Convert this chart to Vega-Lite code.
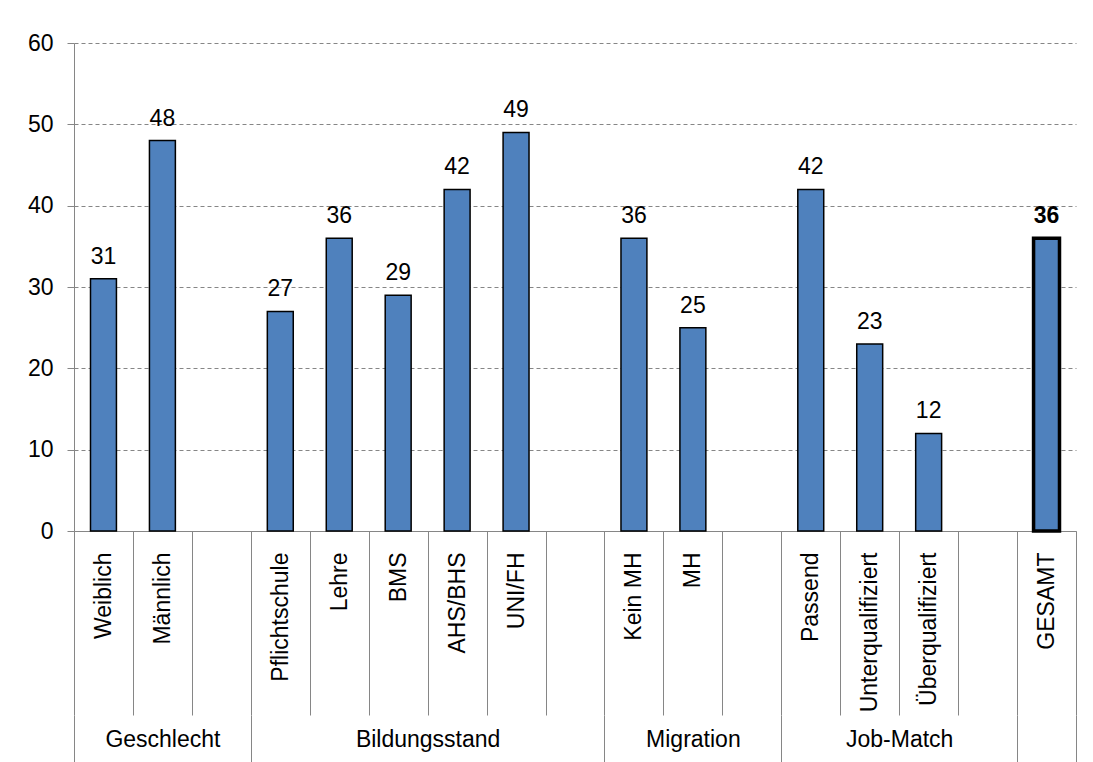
{
  "$schema": "https://vega.github.io/schema/vega-lite/v6.json",
  "width": 1002,
  "height": 488,
  "autosize": "none",
  "padding": {"left": 74, "top": 43, "right": 17, "bottom": 231},
  "background": "white",
  "config": {"font": "Liberation Sans", "view": {"stroke": null}},
  "data": {
    "values": [
      {"cat": "Weiblich", "value": 31},
      {"cat": "Männlich", "value": 48},
      {"cat": "Pflichtschule", "value": 27},
      {"cat": "Lehre", "value": 36},
      {"cat": "BMS", "value": 29},
      {"cat": "AHS/BHS", "value": 42},
      {"cat": "UNI/FH", "value": 49},
      {"cat": "Kein MH", "value": 36},
      {"cat": "MH", "value": 25},
      {"cat": "Passend", "value": 42},
      {"cat": "Unterqualifiziert", "value": 23},
      {"cat": "Überqualifiziert", "value": 12},
      {"cat": "GESAMT", "value": 36}
    ]
  },
  "resolve": {"scale": {"x": "independent"}},
  "layer": [
    {
      "encoding": {
        "x": {
          "field": "cat",
          "type": "nominal",
          "sort": null,
          "scale": {
            "domain": ["Weiblich", "Männlich", " ", "Pflichtschule", "Lehre", "BMS", "AHS/BHS", "UNI/FH", "  ", "Kein MH", "MH", "   ", "Passend", "Unterqualifiziert", "Überqualifiziert", "    ", "GESAMT"],
            "paddingInner": 0,
            "paddingOuter": 0
          },
          "axis": {
            "title": null,
            "labelAngle": 270,
            "labelAlign": "right",
            "labelBaseline": "middle",
            "labelFontSize": 23,
            "labelColor": "black",
            "labelPadding": -163,
            "labelOverlap": false,
            "labelLimit": 0,
            "tickBand": "extent",
            "tickSize": 184,
            "tickColor": "#868686",
            "domainColor": "#868686",
            "grid": false
          }
        },
        "y": {
          "field": "value",
          "type": "quantitative",
          "scale": {"domain": [0, 60], "nice": false},
          "axis": {
            "title": null,
            "values": [0, 10, 20, 30, 40, 50, 60],
            "grid": true,
            "gridDash": [4, 3],
            "gridColor": "#868686",
            "domainColor": "#868686",
            "tickColor": "#868686",
            "tickSize": 7,
            "labelFontSize": 23,
            "labelPadding": 14,
            "labelColor": "black"
          }
        }
      },
      "layer": [
        {
          "mark": {"type": "bar", "fill": "#4F81BD", "stroke": "black", "width": {"band": 0.44}},
          "encoding": {
            "strokeWidth": {"condition": {"test": "datum.cat === 'GESAMT'", "value": 3.5}, "value": 1.5}
          }
        },
        {
          "transform": [{"filter": "datum.cat !== 'GESAMT'"}],
          "mark": {"type": "text", "baseline": "alphabetic", "dy": -15, "fontSize": 23, "color": "black"},
          "encoding": {
            "text": {"field": "value", "type": "quantitative"}
          }
        },
        {
          "transform": [{"filter": "datum.cat === 'GESAMT'"}],
          "mark": {"type": "text", "baseline": "alphabetic", "dy": -15, "fontSize": 23, "fontWeight": "bold", "color": "black"},
          "encoding": {
            "text": {"field": "value", "type": "quantitative"}
          }
        }
      ]
    },
    {
      "mark": {"type": "rule", "opacity": 0},
      "encoding": {
        "x": {
          "datum": 0,
          "type": "quantitative",
          "scale": {"domain": [0, 17], "nice": false, "zero": false},
          "axis": {
            "orient": "bottom",
            "offset": 184,
            "title": null,
            "values": [0, 1.5, 3, 6, 9, 10.5, 12, 14, 16, 17],
            "labelExpr": "datum.value == 1.5 ? 'Geschlecht' : datum.value == 6 ? 'Bildungsstand' : datum.value == 10.5 ? 'Migration' : datum.value == 14 ? 'Job-Match' : ''",
            "tickSize": 47,
            "tickColor": "#868686",
            "tickOpacity": {"condition": {"test": "indexof([0, 3, 9, 12, 16, 17], datum.value) >= 0", "value": 1}, "value": 0},
            "domain": false,
            "domainOpacity": 0,
            "grid": false,
            "labelPadding": -34,
            "labelBaseline": "top",
            "labelFontSize": 23,
            "labelColor": "black",
            "labelOverlap": false,
            "labelFlush": false,
            "labelBound": false
          }
        }
      }
    }
  ]
}
